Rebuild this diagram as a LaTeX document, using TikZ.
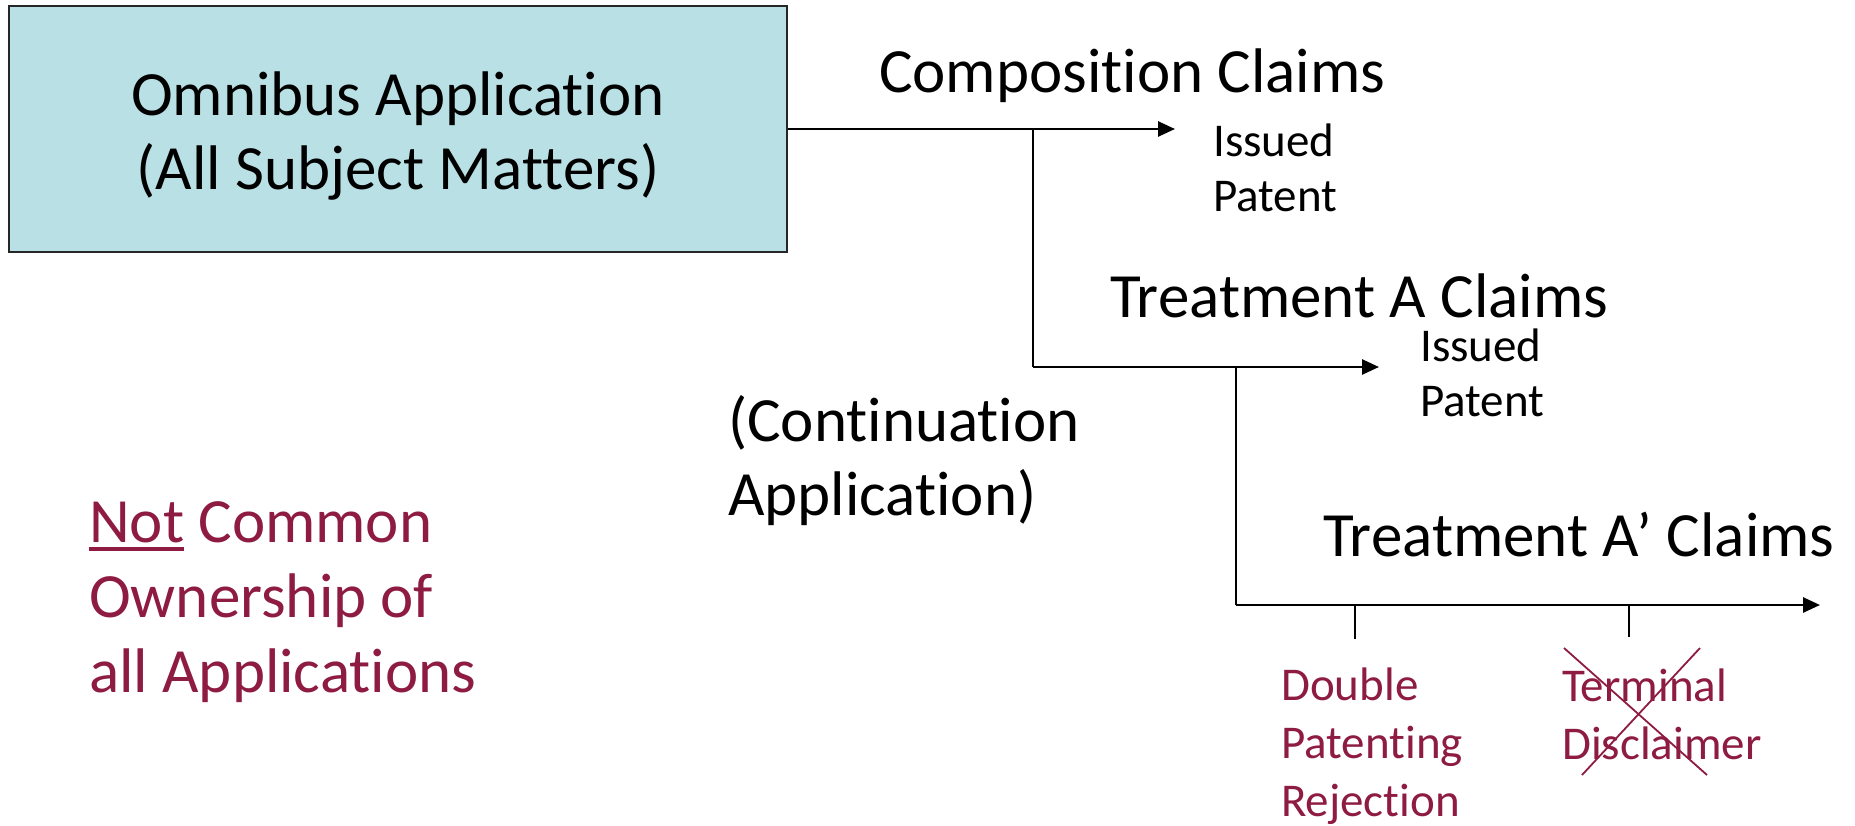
\documentclass[tikz,border=0pt]{standalone}
\usepackage{fontspec}
\setmainfont{Carlito}[Ligatures=NoCommon]
\usetikzlibrary{arrows.meta}
\definecolor{boxfill}{HTML}{B9E0E4}
\definecolor{wine}{HTML}{8E1B41}
\newlength\ulen
\newcommand\thickul[1]{\settowidth{\ulen}{#1}\makebox[0pt][l]{\rule[-9pt]{\ulen}{4.5pt}}#1}
% multi-line nodes are placed by the baseline of their last line
\tikzset{
  big/.style={font=\fontsize{63}{74}\selectfont, inner sep=0pt, align=left, anchor=base west},
  small/.style={font=\fontsize{47}{55}\selectfont, inner sep=0pt, align=left, anchor=base west},
  smallred/.style={font=\fontsize{47}{58}\selectfont, inner sep=0pt, align=left, anchor=base west, text=wine},
  bigred/.style={font=\fontsize{63}{75}\selectfont, inner sep=0pt, align=left, anchor=base west, text=wine},
  mainarrow/.style={line width=2.6pt, -{Triangle[length=17pt, width=15pt]}},
  branch/.style={line width=1.4pt},
  tick/.style={line width=1.4pt},
}
\begin{document}
\begin{tikzpicture}[x=1pt, y=-1pt]
\useasboundingbox (0,0) rectangle (1855,825);

% root application box
\node (omni) [draw=black!85, line width=1.6pt, fill=boxfill, minimum width=778pt,
  minimum height=246pt, inner sep=0pt] at (398,129) {};
\node (omnitext) [align=center, inner sep=0pt, anchor=base,
  font=\fontsize{63}{74}\selectfont] at (398,189)
  {Omnibus Application\\(All Subject Matters)};

% junctions and arrow ends
\coordinate (c1end) at (1175,129);
\coordinate (j1) at (1033,129);
\coordinate (j1b) at (1033,367);
\coordinate (c2end) at (1379,367);
\coordinate (j2) at (1236,367);
\coordinate (j2b) at (1236,605);
\coordinate (c3end) at (1820,605);
\coordinate (t1) at (1355,605);
\coordinate (t1b) at (1355,639);
\coordinate (t2) at (1629,605);
\coordinate (t2b) at (1629,637);

% claim labels
\node (comp) [big] at (879,92) {Composition Claims};
\node (iss1) [small] at (1213,211) {Issued\\Patent};
\node (treatA) [big] at (1110,317) {Treatment A Claims};
\node (iss2) [small] at (1420,416) {Issued\\Patent};
\node (cont) [big] at (728,515) {(Continuation\\Application)};
\node (treatAp) [big] at (1323,556) {Treatment A’ Claims};

\node (owner) [bigred] at (89,692) {\thickul{Not} Common\\Ownership of\\all Applications};
\node (dpr) [smallred] at (1281,816) {Double\\Patenting\\Rejection};
\node (term) [smallred] at (1562,759) {Terminal\\Disclaimer};

% connectors
\draw[mainarrow] (omni.east |- c1end) -- (c1end);
\draw[branch] (j1) -- (j1b);
\draw[mainarrow] (j1b) -- (c2end);
\draw[branch] (j2) -- (j2b);
\draw[mainarrow] (j2b) -- (c3end);
\draw[tick] (t1) -- (t1b);
\draw[tick] (t2) -- (t2b);

% struck-out terminal disclaimer
\draw[wine, line width=1.8pt] (1564,648) -- (1707,775);
\draw[wine, line width=1.8pt] (1700,648) -- (1582,775);
\end{tikzpicture}
\end{document}
